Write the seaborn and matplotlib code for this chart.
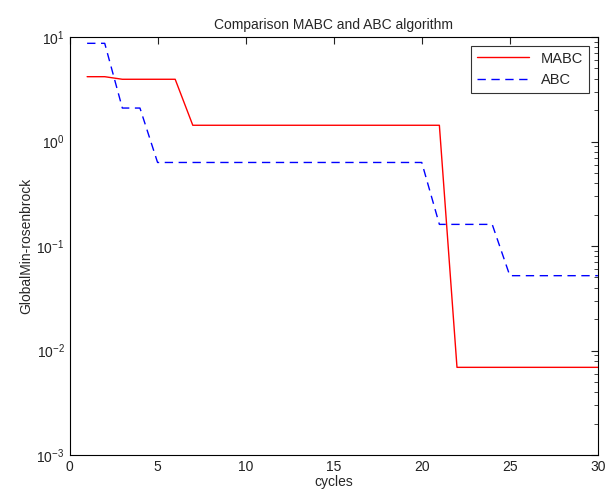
import numpy as np
import pandas as pd
import matplotlib
matplotlib.use("Agg")
import matplotlib.pyplot as plt
import seaborn as sns
from matplotlib.ticker import LogLocator, NullFormatter

# values
cycles = list(range(1, 31))
mabc = [4.17, 4.17, 3.94, 3.94, 3.94, 3.94] + [1.43] * 15 + [0.0069] * 9
abc = [8.7, 8.7, 2.09, 2.09] + [0.63] * 16 + [0.161] * 4 + [0.052] * 6

df = pd.DataFrame({"cycles": cycles * 2,
                   "value": mabc + abc,
                   "algo": ["MABC"] * 30 + ["ABC"] * 30})

sns.set_style("white")
plt.rcParams['font.family'] = ['Liberation Sans', 'DejaVu Sans']
plt.rcParams['mathtext.fontset'] = 'custom'
plt.rcParams['mathtext.rm'] = 'Liberation Sans'
plt.rcParams['axes.unicode_minus'] = False

fig = plt.figure(figsize=(6.07, 5.0), dpi=100)
ax = fig.add_axes([0.1145, 0.09, 0.8705, 0.836])

sns.lineplot(data=df, x="cycles", y="value", hue="algo", style="algo",
             palette={"MABC": "#ff0000", "ABC": "#0000ff"},
             dashes={"MABC": "", "ABC": (6, 4)}, linewidth=1.0, ax=ax)

ax.set_yscale("log")
ax.set_xlim(0, 30)
ax.set_ylim(1e-3, 1e1)
ax.set_xticks([0, 5, 10, 15, 20, 25, 30])
ax.yaxis.set_major_locator(LogLocator(base=10, numticks=10))
ax.yaxis.set_minor_locator(LogLocator(base=10, subs=np.arange(2, 10), numticks=20))
ax.yaxis.set_minor_formatter(NullFormatter())
ax.tick_params(which="both", direction="in", top=True, right=True,
               labelsize=10, colors="#222222")
ax.tick_params(which="major", length=5)
ax.tick_params(which="minor", length=3)
for s in ax.spines.values():
    s.set_color("black")
    s.set_linewidth(0.8)

ax.set_title("Comparison MABC and ABC algorithm", fontsize=10, pad=6)
ax.set_xlabel("cycles", fontsize=10, labelpad=1)
ax.set_ylabel("GlobalMin-rosenbrock", fontsize=10, labelpad=2)

leg = ax.legend(loc="upper right", fontsize=10.5, frameon=True, fancybox=False,
                edgecolor="black", handlelength=3.6, borderaxespad=0.6)
leg.get_frame().set_linewidth(0.8)

fig.savefig("out.png", dpi=100)
